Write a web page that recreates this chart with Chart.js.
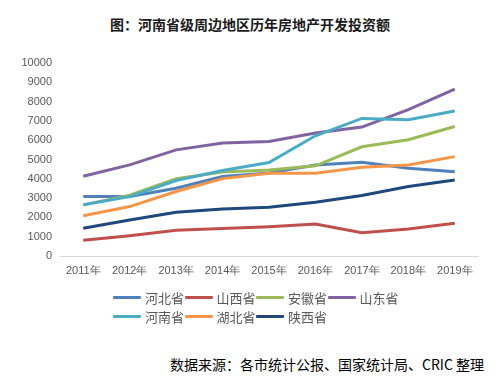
<!DOCTYPE html>
<html><head><meta charset="utf-8">
<script src="https://cdn.jsdelivr.net/npm/chart.js@4/dist/chart.umd.min.js"></script>
<style>
html,body{margin:0;padding:0;background:#fff;width:500px;height:390px;overflow:hidden;font-family:"Noto Sans CJK SC","Noto Sans",sans-serif;}
#title{position:absolute;left:0;top:14px;width:500px;text-align:center;font-size:14px;font-weight:bold;color:#1a1a1a;letter-spacing:0px;}
#wrap{position:absolute;left:0;top:0;width:500px;height:290px;}
#legend{position:absolute;left:113px;top:288px;width:300px;}
.row{display:flex;height:19px;align-items:center;}
.item{display:flex;align-items:center;width:71.5px;font-size:13px;color:#595959;}
.sw{width:28px;height:3px;margin-right:4px;border-radius:1px;}
#src{position:absolute;left:170px;top:354px;font-size:14px;color:#000;white-space:nowrap;}
</style></head>
<body>
<div id="title">图：河南省级周边地区历年房地产开发投资额</div>
<div id="wrap"><canvas id="c" width="500" height="290"></canvas></div>
<div id="legend"></div>
<div id="src">数据来源：各市统计公报、国家统计局、CRIC 整理</div>
<script>
const categories = ["2011年","2012年","2013年","2014年","2015年","2016年","2017年","2018年","2019年"];
const seriesNames = ["河北省","山西省","安徽省","山东省","河南省","湖北省","陕西省"];
const hebei   = [3080, 3080, 3510, 4120, 4300, 4720, 4860, 4550, 4360];
const shanxi  = [815, 1050, 1330, 1420, 1520, 1660, 1210, 1400, 1700];
const anhui   = [2650, 3150, 4000, 4350, 4460, 4670, 5660, 6020, 6710];
const shandong= [4135, 4720, 5500, 5850, 5930, 6370, 6680, 7580, 8650];
const henan   = [2650, 3080, 3910, 4430, 4840, 6230, 7130, 7060, 7510];
const hubei   = [2090, 2560, 3340, 4010, 4290, 4290, 4600, 4710, 5150];
const shaanxi = [1435, 1870, 2270, 2440, 2530, 2790, 3130, 3600, 3940];
const yTicks = [0,1000,2000,3000,4000,5000,6000,7000,8000,9000,10000];

const colors = ["#4F81BD","#C0504D","#9BBB59","#8064A2","#4BACC6","#F79646","#1F497D"];
const values = [hebei, shanxi, anhui, shandong, henan, hubei, shaanxi];

const datasets = seriesNames.map((n,i)=>({
  label:n, data:values[i], borderColor:colors[i], backgroundColor:colors[i],
  borderWidth:3, pointRadius:0, tension:0, fill:false, order: 7-i
}));

new Chart(document.getElementById('c'), {
  type:'line',
  data:{labels:categories, datasets},
  options:{
    responsive:false, animation:false,
    layout:{padding:{top:63,right:22,left:0,bottom:0}},
    plugins:{legend:{display:false},title:{display:false},tooltip:{enabled:false}},
    scales:{
      x:{
        offset:true,
        grid:{display:false,drawTicks:false},
        border:{display:true,color:"#D9D9D9",width:1},
        ticks:{color:"#595959",font:{size:11,family:"Liberation Sans, Arial, sans-serif"},padding:8,maxRotation:0,autoSkip:false,
          callback:(v,i)=>categories[i]},
        afterFit:s=>{s.height=34;}
      },
      y:{
        min:0,max:10000,
        afterBuildTicks:s=>{s.ticks=yTicks.map(v=>({value:v}));},
        grid:{display:false,drawTicks:false},
        border:{display:false},
        ticks:{color:"#595959",font:{size:11,family:"Liberation Sans, Arial, sans-serif"},padding:8,
          callback:v=>String(v)},
        afterFit:s=>{s.width=60;}
      }
    }
  }
});

const lg = document.getElementById('legend');
const rows = [[0,1,2,3],[4,5,6]];
rows.forEach(r=>{
  const row=document.createElement('div'); row.className='row';
  r.forEach(i=>{
    const it=document.createElement('div'); it.className='item';
    const sw=document.createElement('span'); sw.className='sw'; sw.style.background=colors[i];
    const t=document.createElement('span'); t.textContent=seriesNames[i];
    it.appendChild(sw); it.appendChild(t); row.appendChild(it);
  });
  lg.appendChild(row);
});
</script>
</body></html>
